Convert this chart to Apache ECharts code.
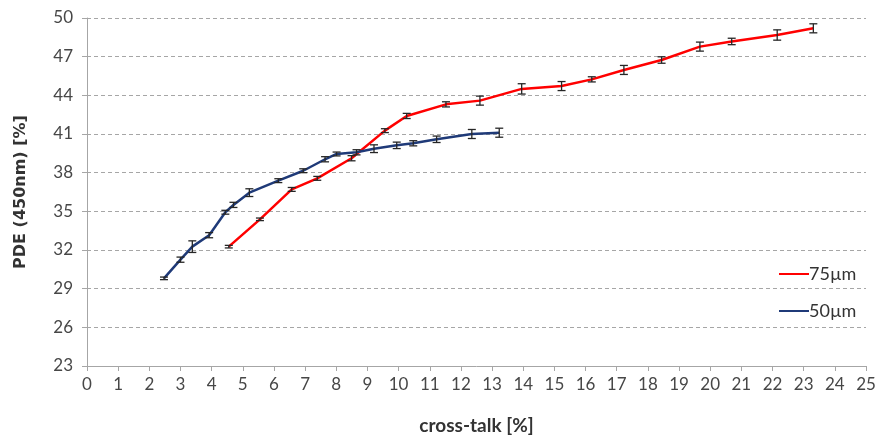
<!DOCTYPE html>
<html>
<head>
<meta charset="utf-8">
<script src="https://cdn.jsdelivr.net/npm/echarts@6/dist/echarts.min.js"></script>
<style>
  html, body { margin: 0; padding: 0; background: #fff; }
  #chart { width: 879px; height: 438px; }
</style>
</head>
<body>
<div id="chart"></div>
<script>
// Cross-talk (%) vs. PDE at 450 nm (%) for two cell pitches, with error bars.
const xTalk75 = [4.55, 5.55, 6.57, 7.39, 8.49, 9.56, 10.26, 11.52, 12.61, 13.95, 15.23, 16.20, 17.23, 18.44, 19.67, 20.69, 22.15, 23.31];
const pde75   = [32.26, 34.38, 36.70, 37.56, 39.12, 41.26, 42.40, 43.30, 43.59, 44.50, 44.72, 45.24, 45.97, 46.74, 47.78, 48.18, 48.68, 49.20];
const err75   = [0.10, 0.10, 0.15, 0.15, 0.20, 0.15, 0.20, 0.20, 0.35, 0.40, 0.35, 0.20, 0.35, 0.25, 0.35, 0.25, 0.40, 0.35];

const xTalk50 = [2.47, 3.00, 3.38, 3.92, 4.44, 4.70, 5.21, 6.14, 6.94, 7.64, 8.01, 8.65, 9.21, 9.94, 10.47, 11.22, 12.35, 13.23];
const pde50   = [29.80, 31.25, 32.26, 33.15, 34.93, 35.50, 36.45, 37.38, 38.15, 39.04, 39.45, 39.58, 39.86, 40.12, 40.28, 40.59, 41.00, 41.10];
const err50   = [0.10, 0.20, 0.45, 0.20, 0.15, 0.20, 0.30, 0.15, 0.15, 0.20, 0.15, 0.20, 0.30, 0.25, 0.20, 0.25, 0.35, 0.35];

const yTicks = [23, 26, 29, 32, 35, 38, 41, 44, 47, 50];
const seriesNames = ['75µm', '50µm'];
const colors = ['#ff0000', '#1f3a78'];

const font = 'Lato, "Open Sans", sans-serif';
const textColor = '#474747';

function pairs(xs, ys) { return xs.map((x, i) => [x, ys[i]]); }
function errRows(xs, ys, es) { return xs.map((x, i) => [x, ys[i] - es[i], ys[i] + es[i]]); }

// Vertical error bar with short caps
function renderErr(params, api) {
  const x = api.value(0);
  const lo = api.coord([x, api.value(1)]);
  const hi = api.coord([x, api.value(2)]);
  const cap = 4;
  const style = { stroke: '#262626', lineWidth: 1.3 };
  return {
    type: 'group',
    children: [
      { type: 'line', shape: { x1: lo[0], y1: lo[1], x2: hi[0], y2: hi[1] }, style },
      { type: 'line', shape: { x1: lo[0] - cap, y1: lo[1], x2: lo[0] + cap, y2: lo[1] }, style },
      { type: 'line', shape: { x1: hi[0] - cap, y1: hi[1], x2: hi[0] + cap, y2: hi[1] }, style }
    ]
  };
}

const chart = echarts.init(document.getElementById('chart'), null, { renderer: 'canvas' });
chart.setOption({
  animation: false,
  backgroundColor: '#fff',
  grid: { left: 87, right: 13, top: 18, bottom: 72, outerBoundsMode: 'none', containLabel: false },
  legend: {
    orient: 'vertical',
    left: 774,
    top: 260,
    itemGap: 19,
    itemWidth: 30,
    itemHeight: 2,
    icon: 'rect',
    data: seriesNames,
    textStyle: { fontFamily: font, fontSize: 18, color: '#333', padding: [0, 0, 0, -5] }
  },
  xAxis: {
    type: 'value',
    min: 0, max: 25, interval: 1,
    name: 'cross-talk [%]',
    nameLocation: 'middle',
    nameGap: 50,
    nameTextStyle: { fontFamily: font, fontSize: 19, fontWeight: 'bold', color: '#333' },
    axisLine: { show: true, onZero: false, lineStyle: { color: '#a6a6a6', width: 1 } },
    axisTick: { show: true, length: 5, lineStyle: { color: '#a6a6a6' } },
    axisLabel: { margin: 10, fontFamily: font, fontSize: 17, color: textColor },
    splitLine: { show: false }
  },
  yAxis: {
    type: 'value',
    min: 23, max: 50,
    name: 'PDE (450nm) [%]',
    nameLocation: 'middle',
    nameGap: 58,
    nameTextStyle: { fontFamily: '"DejaVu Sans", sans-serif', fontSize: 16, fontWeight: 'bold', color: '#333' },
    axisLine: { show: true, lineStyle: { color: '#a6a6a6', width: 1 } },
    axisTick: { show: true, length: 5, customValues: yTicks, lineStyle: { color: '#a6a6a6' } },
    axisLabel: { margin: 14, fontFamily: font, fontSize: 17, color: textColor, customValues: yTicks },
    splitLine: { show: true, lineStyle: { color: '#a6a6a6', type: [4, 3], width: 1 } }
  },
  series: [
    {
      name: seriesNames[0], type: 'line', data: pairs(xTalk75, pde75),
      showSymbol: false, symbol: 'none',
      lineStyle: { color: colors[0], width: 2.5 }, itemStyle: { color: colors[0] }, z: 3
    },
    {
      name: seriesNames[1], type: 'line', data: pairs(xTalk50, pde50),
      showSymbol: false, symbol: 'none',
      lineStyle: { color: colors[1], width: 2.5 }, itemStyle: { color: colors[1] }, z: 3
    },
    { type: 'custom', renderItem: renderErr, data: errRows(xTalk75, pde75, err75), z: 4, silent: true },
    { type: 'custom', renderItem: renderErr, data: errRows(xTalk50, pde50, err50), z: 4, silent: true }
  ]
});
</script>
</body>
</html>
